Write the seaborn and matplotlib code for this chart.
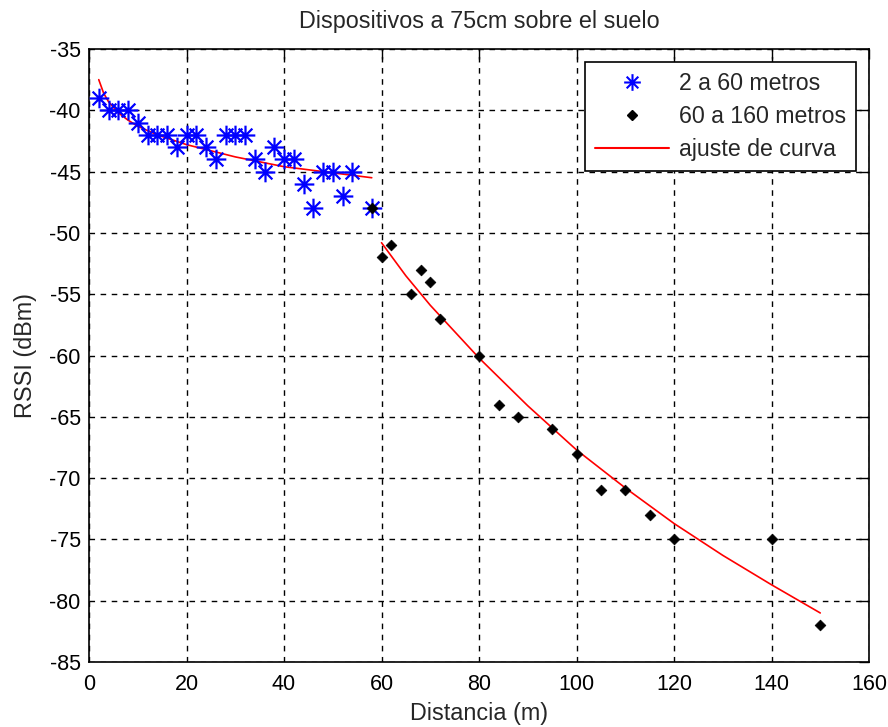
import numpy as np
import pandas as pd
import matplotlib
matplotlib.use("Agg")
import matplotlib.pyplot as plt
from matplotlib.path import Path
from matplotlib.lines import Line2D
import seaborn as sns

# --- data ---
near_x = [2, 4, 6, 8, 10, 12, 14, 16, 18, 20, 22, 24, 26, 28, 30, 32, 34, 36,
          38, 40, 42, 44, 46, 48, 50, 52, 54, 58]
near_y = [-39, -40, -40, -40, -41, -42, -42, -42, -43, -42, -42, -43, -44, -42,
          -42, -42, -44, -45, -43, -44, -44, -46, -48, -45, -45, -47, -45, -48]

far_x = [58, 60, 62, 66, 68, 70, 72, 80, 84, 88, 95, 100, 105, 110, 115, 120, 140, 150]
far_y = [-48, -52, -51, -55, -53, -54, -57, -60, -64, -65, -66, -68, -71, -71,
         -73, -75, -75, -82]

fit1_x = [2, 3, 4, 6, 8, 10, 14, 20, 30, 40, 50, 58]
fit1_y = [-37.5, -38.6, -39.3, -40.2, -40.8, -41.3, -42.0, -42.8, -43.8, -44.6, -45.1, -45.5]

fit2_x = [60, 65, 70, 80, 90, 100, 110, 120, 130, 140, 150]
fit2_y = [-50.8, -53.5, -55.9, -60.2, -64.1, -67.7, -70.8, -73.7, -76.3, -78.7, -81.0]

labels = ["2 a 60 metros", "60 a 160 metros", "ajuste de curva"]
title = "Dispositivos a 75cm sobre el suelo"
xlabel = "Distancia (m)"
ylabel = "RSSI (dBm)"

near = pd.DataFrame({"x": near_x, "y": near_y})
far = pd.DataFrame({"x": far_x, "y": far_y})
fit1 = pd.DataFrame({"x": fit1_x, "y": fit1_y})
fit2 = pd.DataFrame({"x": fit2_x, "y": fit2_y})

sns.set_theme(style="white")
plt.rcParams["font.family"] = ["Liberation Sans", "DejaVu Sans"]
plt.rcParams["axes.unicode_minus"] = False

fig = plt.figure(figsize=(8.88, 7.27), dpi=100)
ax = fig.add_axes([89 / 888, 1 - 662 / 727, 780 / 888, 613 / 727])

star = Path([(-1, 0), (1, 0), (0, -1), (0, 1),
             (-0.7, -0.7), (0.7, 0.7), (-0.7, 0.7), (0.7, -0.7)],
            [Path.MOVETO, Path.LINETO] * 4)

sns.lineplot(data=fit1, x="x", y="y", ax=ax, color="red", lw=1.2, zorder=3)
sns.lineplot(data=fit2, x="x", y="y", ax=ax, color="red", lw=1.2, zorder=3)
sns.scatterplot(data=near, x="x", y="y", ax=ax, marker=star, s=200,
                color="blue", edgecolor="blue", linewidth=1.6, zorder=4)
sns.scatterplot(data=far, x="x", y="y", ax=ax, marker="D", s=30,
                color="black", edgecolor="black", linewidth=0.5, zorder=5)

ax.set_xlim(0, 160)
ax.set_ylim(-85, -35)
ax.set_xticks(np.arange(0, 161, 20))
ax.set_yticks(np.arange(-85, -34, 5))
ax.grid(True, color="black", linestyle=(0, (4, 4)), linewidth=1.0)
ax.set_axisbelow(True)
for s in ax.spines.values():
    s.set_color("black")
    s.set_linewidth(1.2)
ax.tick_params(direction="in", length=7, width=1, colors="black",
               top=True, right=True, labelsize=15.5)
ax.tick_params(axis="x", pad=9)
ax.tick_params(axis="y", pad=6)

ax.set_title(title, fontsize=16.8, pad=15)
ax.set_xlabel(xlabel, fontsize=16.8, labelpad=5)
ax.set_ylabel(ylabel, fontsize=16.8, labelpad=9)

handles = [
    Line2D([], [], ls="none", marker=star, color="blue", mec="blue", ms=12, mew=1.5),
    Line2D([], [], ls="none", marker="D", color="black", ms=5),
    Line2D([], [], color="red", lw=1.5),
]
leg = ax.legend(handles, labels, loc="upper right", bbox_to_anchor=(1, 1),
                fontsize=16.7, frameon=True, fancybox=False, edgecolor="black",
                framealpha=1, handlelength=3.2, handletextpad=0.4,
                labelspacing=0.42, borderaxespad=0.55, borderpad=0.45)
leg.get_frame().set_linewidth(1.2)

fig.savefig("out.png", dpi=100, facecolor="white")
